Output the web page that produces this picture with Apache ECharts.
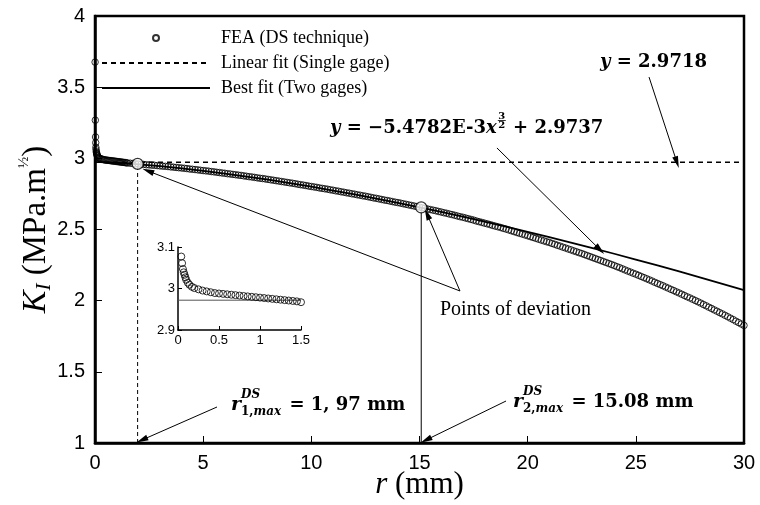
<!DOCTYPE html>
<html>
<head>
<meta charset="utf-8">
<script src="https://cdn.jsdelivr.net/npm/echarts@6/dist/echarts.min.js"></script>
<style>
  html, body { margin: 0; padding: 0; background: #fff; }
  #chart { width: 760px; height: 505px; }
</style>
</head>
<body>
<div id="chart"></div>
<script>
// FEA results (DS technique): crack distance r (mm) and K_I (MPa.m^1/2)
const feaR = [0.005, 0.015, 0.025, 0.032, 0.04, 0.05, 0.06, 0.07, 0.08, 0.09, 0.1, 0.12, 0.14, 0.17,
  0.2, 0.25, 0.3, 0.35, 0.4, 0.45, 0.5, 0.55, 0.6, 0.65, 0.7, 0.75, 0.8, 0.85, 0.9, 0.95,
  1.0, 1.05, 1.1, 1.15, 1.2, 1.25, 1.3, 1.35, 1.4, 1.45, 1.5, 1.625, 1.75, 1.875,
  2.0, 2.125, 2.25, 2.375, 2.5, 2.625, 2.75, 2.875,
  3.0, 3.125, 3.25, 3.375, 3.5, 3.625, 3.75, 3.875,
  4.0, 4.125, 4.25, 4.375, 4.5, 4.625, 4.75, 4.875,
  5.0, 5.125, 5.25, 5.375, 5.5, 5.625, 5.75, 5.875,
  6.0, 6.125, 6.25, 6.375, 6.5, 6.625, 6.75, 6.875,
  7.0, 7.125, 7.25, 7.375, 7.5, 7.625, 7.75, 7.875,
  8.0, 8.125, 8.25, 8.375, 8.5, 8.625, 8.75, 8.875,
  9.0, 9.125, 9.25, 9.375, 9.5, 9.625, 9.75, 9.875,
  10.0, 10.125, 10.25, 10.375, 10.5, 10.625, 10.75, 10.875,
  11.0, 11.125, 11.25, 11.375, 11.5, 11.625, 11.75, 11.875,
  12.0, 12.125, 12.25, 12.375, 12.5, 12.625, 12.75, 12.875,
  13.0, 13.125, 13.25, 13.375, 13.5, 13.625, 13.75, 13.875,
  14.0, 14.125, 14.25, 14.375, 14.5, 14.625, 14.75, 14.875,
  15.0, 15.125, 15.25, 15.375, 15.5, 15.625, 15.75, 15.875,
  16.0, 16.125, 16.25, 16.375, 16.5, 16.625, 16.75, 16.875,
  17.0, 17.125, 17.25, 17.375, 17.5, 17.625, 17.75, 17.875,
  18.0, 18.125, 18.25, 18.375, 18.5, 18.625, 18.75, 18.875,
  19.0, 19.125, 19.25, 19.375, 19.5, 19.625, 19.75, 19.875,
  20.0, 20.125, 20.25, 20.375, 20.5, 20.625, 20.75, 20.875,
  21.0, 21.125, 21.25, 21.375, 21.5, 21.625, 21.75, 21.875,
  22.0, 22.125, 22.25, 22.375, 22.5, 22.625, 22.75, 22.875,
  23.0, 23.125, 23.25, 23.375, 23.5, 23.625, 23.75, 23.875,
  24.0, 24.125, 24.25, 24.375, 24.5, 24.625, 24.75, 24.875,
  25.0, 25.125, 25.25, 25.375, 25.5, 25.625, 25.75, 25.875,
  26.0, 26.125, 26.25, 26.375, 26.5, 26.625, 26.75, 26.875,
  27.0, 27.125, 27.25, 27.375, 27.5, 27.625, 27.75, 27.875,
  28.0, 28.125, 28.25, 28.375, 28.5, 28.625, 28.75, 28.875,
  29.0, 29.125, 29.25, 29.375, 29.5, 29.625, 29.75, 29.875,
  30.0];
const feaK = [3.676, 3.268, 3.150, 3.110, 3.077, 3.061, 3.047, 3.039, 3.033, 3.027, 3.021, 3.014, 3.009, 3.004,
  3.001, 2.998, 2.995, 2.993, 2.991, 2.989, 2.988, 2.987, 2.986, 2.985, 2.984, 2.983, 2.982, 2.981, 2.980, 2.979,
  2.978, 2.977, 2.976, 2.975, 2.974, 2.973, 2.972, 2.971, 2.970, 2.969, 2.967, 2.966, 2.964, 2.962,
  2.960, 2.958, 2.957, 2.955, 2.954, 2.952, 2.951, 2.949,
  2.947, 2.945, 2.944, 2.942, 2.940, 2.938, 2.936, 2.934,
  2.932, 2.930, 2.928, 2.925, 2.923, 2.921, 2.919, 2.916,
  2.914, 2.912, 2.910, 2.907, 2.905, 2.902, 2.900, 2.897,
  2.895, 2.892, 2.890, 2.887, 2.885, 2.882, 2.880, 2.877,
  2.874, 2.871, 2.869, 2.866, 2.863, 2.860, 2.858, 2.855,
  2.852, 2.849, 2.846, 2.843, 2.840, 2.837, 2.834, 2.831,
  2.828, 2.825, 2.822, 2.818, 2.815, 2.812, 2.809, 2.805,
  2.802, 2.799, 2.796, 2.792, 2.789, 2.786, 2.783, 2.779,
  2.776, 2.772, 2.769, 2.765, 2.762, 2.758, 2.755, 2.751,
  2.748, 2.744, 2.741, 2.737, 2.734, 2.730, 2.726, 2.722,
  2.719, 2.715, 2.711, 2.707, 2.704, 2.700, 2.696, 2.692,
  2.689, 2.685, 2.681, 2.677, 2.673, 2.669, 2.665, 2.661,
  2.657, 2.653, 2.649, 2.644, 2.640, 2.636, 2.632, 2.627,
  2.623, 2.618, 2.614, 2.609, 2.605, 2.600, 2.595, 2.590,
  2.586, 2.581, 2.576, 2.571, 2.566, 2.560, 2.555, 2.550,
  2.545, 2.540, 2.535, 2.529, 2.524, 2.519, 2.514, 2.508,
  2.503, 2.497, 2.491, 2.485, 2.479, 2.473, 2.468, 2.462,
  2.456, 2.450, 2.444, 2.438, 2.432, 2.426, 2.420, 2.414,
  2.409, 2.402, 2.396, 2.389, 2.383, 2.376, 2.370, 2.363,
  2.357, 2.350, 2.344, 2.337, 2.331, 2.324, 2.317, 2.310,
  2.303, 2.296, 2.289, 2.282, 2.275, 2.268, 2.261, 2.254,
  2.247, 2.239, 2.232, 2.224, 2.216, 2.208, 2.201, 2.193,
  2.186, 2.178, 2.170, 2.162, 2.154, 2.146, 2.138, 2.129,
  2.121, 2.113, 2.105, 2.096, 2.088, 2.079, 2.071, 2.062,
  2.054, 2.045, 2.036, 2.027, 2.019, 2.010, 2.001, 1.992,
  1.983, 1.973, 1.964, 1.954, 1.945, 1.935, 1.926, 1.916,
  1.907, 1.897, 1.887, 1.877, 1.867, 1.856, 1.846, 1.836,
  1.826];

// Linear fit (single gage): y = 2.9718
const linR = [0, 30];
const linK = [2.9718, 2.9718];

// Best fit (two gages): y = -5.4782E-3 x^(3/2) + 2.9737, sampled
const fitR = [0, 0.25, 0.5, 1, 1.5, 2, 3, 4, 5, 6, 7, 8, 9, 10, 11, 12, 13, 14, 15,
  16, 17, 18, 19, 20, 21, 22, 23, 24, 25, 26, 27, 28, 29, 30];
const fitK = [2.9737, 2.9730, 2.9718, 2.9682, 2.9636, 2.9582, 2.9452, 2.9299, 2.9125, 2.8932,
  2.8722, 2.8497, 2.8258, 2.8005, 2.7738, 2.7460, 2.7169, 2.6867, 2.6555, 2.6231, 2.5897,
  2.5553, 2.5200, 2.4837, 2.4465, 2.4084, 2.3694, 2.3296, 2.2889, 2.2474, 2.2051, 2.1620,
  2.1182, 2.0735];

// Points of deviation: r^DS_max values and the K_I there
const devR = [1.97, 15.08];
const devK = [2.961, 2.655];

// Axis ticks
const xTicks = { min: 0, max: 30, step: 5 };
const yTicks = { min: 1, max: 4, step: 0.5 };
const insetX = { min: 0, max: 1.5, step: 0.5 };
const insetY = { min: 2.9, max: 3.1, step: 0.1 };

const zip = (a, b) => a.map((v, i) => [v, b[i]]);
const feaData = zip(feaR, feaK);
const insetFea = feaData.filter(p => p[0] <= insetX.max && p[1] <= insetY.max);

const SANS = '"Liberation Sans", Arial, sans-serif';
const SERIF = '"Liberation Serif", "Times New Roman", serif';
const MATH = '"DejaVu Serif", serif';

// text measuring for composed math labels
const mctx = document.createElement('canvas').getContext('2d');
function fontStr(p) {
  return (p.i ? 'italic ' : '') + 'bold ' + (p.size || 18) + 'px ' + MATH;
}
function textW(s, font) { mctx.font = font; return mctx.measureText(s).width; }
function txt(x, y, s, font) {
  return { type: 'text', x: x, y: y, silent: true, z: 100,
    style: { text: s, font: font, fill: '#000', textAlign: 'left',
      verticalAlign: 'middle', textVerticalAlign: 'middle' } };
}
// lays out a sequence of text pieces, stacked scripts and fractions left to right
function mathLabel(x0, cy, parts) {
  const out = [];
  let x = x0;
  parts.forEach(p => {
    if (p.stack) {
      let xs = x, wSup = 0, wSub = 0;
      p.stack.sup.forEach(q => { const f = fontStr(q); out.push(txt(xs + wSup, cy + p.stack.supDy, q.s, f)); wSup += textW(q.s, f); });
      p.stack.sub.forEach(q => { const f = fontStr(q); out.push(txt(xs + wSub, cy + p.stack.subDy, q.s, f)); wSub += textW(q.s, f); });
      x += Math.max(wSup, wSub) + 2;
    } else if (p.frac) {
      const f = fontStr({ size: p.size });
      const w1 = textW(p.frac[0], f), w2 = textW(p.frac[1], f);
      const wf = Math.max(w1, w2) + 1;
      out.push(txt(x + 1 + (wf - w1) / 2, cy + p.dy - 5, p.frac[0], f));
      out.push(txt(x + 1 + (wf - w2) / 2, cy + p.dy + 4, p.frac[1], f));
      out.push({ type: 'line', silent: true, z: 100,
        shape: { x1: x + 1, y1: cy + p.dy - 0.5, x2: x + 1 + wf, y2: cy + p.dy - 0.5 },
        style: { stroke: '#000', lineWidth: 0.8 } });
      x += wf + 2;
    } else {
      const f = fontStr(p);
      out.push(txt(x, cy + (p.dy || 0), p.s, f));
      x += textW(p.s, f);
    }
  });
  return out;
}

const arrowEnd = (c) => ({ coord: c, symbol: 'triangle', symbolSize: [6, 12] });
const plainEnd = (c) => ({ coord: c, symbol: 'none' });

const chart = echarts.init(document.getElementById('chart'), null, { renderer: 'canvas' });

const graphics = [].concat(
  mathLabel(600, 62, [{ s: 'y', i: true }, { s: ' = 2.9718' }]),
  mathLabel(330, 128, [{ s: 'y', i: true }, { s: ' = \u22125.4782E-3' }, { s: 'x', i: true },
    { frac: ['3', '2'], size: 10, dy: -7 }, { s: ' + 2.9737' }]),
  mathLabel(231, 405, [{ s: 'r', i: true, size: 19 },
    { stack: { sup: [{ s: 'DS', i: true, size: 12 }], sub: [{ s: '1,', size: 12 }, { s: 'max', i: true, size: 12 }], supDy: -10, subDy: 7 } },
    { s: ' = 1, 97 mm' }]),
  mathLabel(513, 402, [{ s: 'r', i: true, size: 19 },
    { stack: { sup: [{ s: 'DS', i: true, size: 12 }], sub: [{ s: '2,', size: 12 }, { s: 'max', i: true, size: 12 }], supDy: -10, subDy: 7 } },
    { s: ' = 15.08 mm' }]),
  [{ type: 'text', x: 440, y: 310, silent: true, z: 100,
    style: { text: 'Points of deviation', font: '20px ' + SERIF, fill: '#000',
      textAlign: 'left', verticalAlign: 'middle', textVerticalAlign: 'middle' } }]
);

const clear = 'rgba(0,0,0,0)';

const option = {
  animation: false,
  backgroundColor: '#fff',
  legend: {
    data: ['FEA (DS technique)', 'Linear fit (Single gage)', 'Best fit (Two gages)'],
    orient: 'vertical', left: 96, top: 24,
    itemWidth: 108, itemHeight: 6, itemGap: 7,
    selectedMode: false,
    textStyle: { fontFamily: SERIF, fontSize: 18, color: '#000', padding: [0, 0, 0, 6] }
  },
  grid: [
    { left: 95, top: 16, right: 16, bottom: 62, show: true, borderColor: '#000', borderWidth: 2.5,
      backgroundColor: 'transparent', containLabel: false, outerBoundsMode: 'none' },
    { left: 178, top: 247, width: 123, height: 83, containLabel: false, outerBoundsMode: 'none' }
  ],
  xAxis: [
    { type: 'value', gridIndex: 0, min: xTicks.min, max: xTicks.max, interval: xTicks.step,
      axisLine: { lineStyle: { color: '#000', width: 2.5 } },
      axisTick: { inside: true, length: 7, lineStyle: { color: '#000', width: 1 } },
      axisLabel: { fontFamily: SANS, fontSize: 20, color: '#000', margin: 10 },
      splitLine: { show: false },
      name: '{r|r}{t| (mm)}', nameLocation: 'middle', nameGap: 26, nameMoveOverlap: false,
      nameTextStyle: { fontFamily: SERIF, fontSize: 31, color: '#000',
        rich: { r: { fontFamily: SERIF, fontStyle: 'italic', fontSize: 31, color: '#000' },
                t: { fontFamily: SERIF, fontSize: 31, color: '#000' } } } },
    { type: 'value', gridIndex: 1, min: insetX.min, max: insetX.max, interval: insetX.step,
      axisLine: { lineStyle: { color: '#000', width: 1.5 } },
      axisTick: { inside: true, length: 4, lineStyle: { color: '#000', width: 1 } },
      axisLabel: { fontFamily: SANS, fontSize: 13, color: '#000', margin: 4 },
      splitLine: { show: false } }
  ],
  yAxis: [
    { type: 'value', gridIndex: 0, min: yTicks.min, max: yTicks.max, interval: yTicks.step,
      axisLine: { lineStyle: { color: '#000', width: 2.5 } },
      axisTick: { inside: true, length: 7, lineStyle: { color: '#000', width: 1 } },
      axisLabel: { fontFamily: SANS, fontSize: 20, color: '#000', margin: 10 },
      splitLine: { show: false },
      name: '{k|K}{i|I}{t| (MPa.m}{h|\u00BD}{t|)}', nameLocation: 'middle', nameGap: 40, nameRotate: 90,
      nameMoveOverlap: false,
      nameTextStyle: { fontFamily: SERIF, fontSize: 33, color: '#000',
        rich: { k: { fontFamily: SERIF, fontStyle: 'italic', fontSize: 34, lineHeight: 38, color: '#000' },
                i: { fontFamily: SERIF, fontStyle: 'italic', fontSize: 21, lineHeight: 16, verticalAlign: 'bottom', color: '#000' },
                t: { fontFamily: SERIF, fontSize: 33, lineHeight: 38, color: '#000' },
                h: { fontFamily: SERIF, fontSize: 15, lineHeight: 14, verticalAlign: 'top', color: '#000' } } } },
    { type: 'value', gridIndex: 1, min: insetY.min, max: insetY.max, interval: insetY.step,
      axisLine: { show: true, lineStyle: { color: '#000', width: 1.5 } },
      axisTick: { show: true, inside: true, length: 4, lineStyle: { color: '#000', width: 1 } },
      axisLabel: { fontFamily: SANS, fontSize: 13, color: '#000', margin: 3 },
      splitLine: { show: false } }
  ],
  series: [
    { name: 'FEA (DS technique)', type: 'scatter', xAxisIndex: 0, yAxisIndex: 0,
      data: feaData, symbol: 'circle', symbolSize: 6.5, z: 3,
      itemStyle: { color: clear, borderColor: '#000', borderWidth: 1 } },
    { name: 'Linear fit (Single gage)', type: 'line', xAxisIndex: 0, yAxisIndex: 0,
      data: zip(linR, linK), showSymbol: false, symbol: 'none', z: 2,
      itemStyle: { color: clear },
      lineStyle: { color: '#000', width: 1.5, type: [5, 4] },
      markLine: {
        silent: true, animation: false, symbol: ['none', 'none'],
        lineStyle: { color: '#000', width: 1, type: 'solid' },
        itemStyle: { color: '#000' },
        label: { show: false },
        data: [
          [plainEnd([25.61, 3.571]), arrowEnd([26.9, 2.9718])],
          [plainEnd([18.58, 3.073]), arrowEnd([23.34, 2.358])],
          [plainEnd([16.87, 2.068]), arrowEnd([2.45, 2.911])],
          [plainEnd([16.87, 2.068]), arrowEnd([15.35, 2.609])],
          [plainEnd([5.64, 1.253]), arrowEnd([2.17, 1.021])],
          [plainEnd([19.0, 1.295]), arrowEnd([15.30, 1.021])]
        ]
      } },
    { name: 'Best fit (Two gages)', type: 'line', xAxisIndex: 0, yAxisIndex: 0,
      data: zip(fitR, fitK), showSymbol: false, symbol: 'none', z: 2,
      itemStyle: { color: clear },
      lineStyle: { color: '#000', width: 1.8 } },
    // guide lines down to the r axis at the deviation points
    { name: 'r1 guide', type: 'line', xAxisIndex: 0, yAxisIndex: 0,
      data: [[devR[0], yTicks.min], [devR[0], devK[0]]], symbol: 'none', z: 2,
      lineStyle: { color: '#000', width: 1, type: [4, 3] } },
    { name: 'r2 guide', type: 'line', xAxisIndex: 0, yAxisIndex: 0,
      data: [[devR[1], yTicks.min], [devR[1], devK[1]]], symbol: 'none', z: 2,
      lineStyle: { color: '#000', width: 1 } },
    { name: 'Points of deviation', type: 'scatter', xAxisIndex: 0, yAxisIndex: 0,
      data: zip(devR, devK), symbol: 'circle', symbolSize: 11, z: 5,
      itemStyle: { color: '#fff', borderColor: '#000', borderWidth: 1.2 } },
    // inset: near-tip zoom
    { name: 'inset linear', type: 'line', xAxisIndex: 1, yAxisIndex: 1,
      data: [[insetX.min, linK[0]], [insetX.max, linK[1]]], symbol: 'none', z: 2,
      lineStyle: { color: '#555', width: 1 } },
    { name: 'inset FEA', type: 'scatter', xAxisIndex: 1, yAxisIndex: 1,
      data: insetFea, symbol: 'circle', symbolSize: 7, z: 3,
      itemStyle: { color: clear, borderColor: '#000', borderWidth: 1 } }
  ],
  graphic: graphics
};

chart.setOption(option);
</script>
</body>
</html>
